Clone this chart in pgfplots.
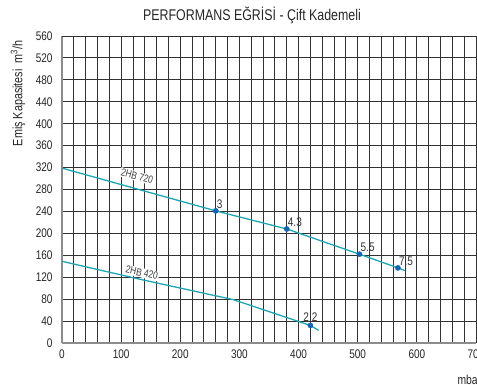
\documentclass[border=0pt]{standalone}
\usepackage{pgfplots}
\pgfplotsset{compat=1.18}
\usepackage{fontspec}
\setmainfont[FakeStretch=0.8]{Liberation Sans}
\definecolor{curve}{RGB}{30,165,180}
\definecolor{dot}{RGB}{20,100,180}
\definecolor{gridc}{RGB}{50,50,50}
\begin{document}
\begin{tikzpicture}
\begin{axis}[
  at={(0,0)}, anchor=south west,
  scale only axis, width=414pt, height=307pt,
  xmin=0, xmax=700, ymin=0, ymax=560,
  xtick={0,100,...,700}, ytick={0,40,...,560},
  minor x tick num=4,
  xmajorgrids, xminorgrids, ymajorgrids,
  major grid style={gridc, line width=0.9pt},
  minor grid style={gridc, line width=0.9pt},
  major tick length=0pt, minor tick length=0pt,
  axis line style={black!45, line width=1.5pt},
  axis x line*=bottom, axis y line*=left,
  tick label style={font=\fontsize{12.5}{14}\selectfont, text=black!85},
  /pgf/number format/assume math mode=true,
  xticklabel style={yshift=-3pt},
  yticklabel style={xshift=-6pt},
  clip=false,
]
\draw[gridc, line width=0.9pt] (axis cs:0,560) -- (axis cs:700,560);
\addplot[curve, line width=1.3pt] coordinates {(0,319) (260,241) (380,208) (503,162) (568,137) (580,132)};
\addplot[curve, line width=1.3pt] coordinates {(0,149) (137,115) (290,79) (420,32) (434,23)};
\addplot[only marks, mark=*, mark size=2.6pt, color=dot,
  nodes near coords, point meta=explicit symbolic,
  every node near coord/.style={anchor=south west, font=\fontsize{12.5}{14}\selectfont, text=black!80, inner sep=1pt, xshift=0pt, yshift=1pt}]
  coordinates {(260,241)[3] (380,208)[4.3] (503,162)[5.5] (568,137)[7.5]};
\addplot[only marks, mark=*, mark size=2.6pt, color=dot,
  nodes near coords, point meta=explicit symbolic,
  every node near coord/.style={anchor=south, font=\fontsize{12.5}{14}\selectfont, text=black!80, inner sep=1pt, yshift=3pt}]
  coordinates {(420,32)[2.2]};
\node[fill=white, rotate=-15.5, inner sep=1pt, font=\fontsize{10.5}{12}\selectfont, text=black!75] at (axis cs:127,304) {2HB 720};
\node[fill=white, rotate=-13, inner sep=1pt, font=\fontsize{10.5}{12}\selectfont, text=black!75] at (axis cs:135,128) {2HB 420};
\node[font=\fontsize{15.5}{18}\selectfont, text=black!85] at ([xshift=-17pt, yshift=21pt]rel axis cs:0.5,1) {PERFORMANS EĞRİSİ - Çift Kademeli};
\node[rotate=90, anchor=east, font=\fontsize{13.5}{15}\selectfont, text=black!85] at ([xshift=-44pt, yshift=-1pt]rel axis cs:0,1) {Emiş Kapasitesi~~m\textsuperscript{3}/h};
\node[anchor=west, font=\fontsize{13}{15}\selectfont, text=black!85] at ([xshift=-22pt, yshift=-37pt]axis cs:700,0) {mbar};
\end{axis}
\pgfresetboundingbox
\path[use as bounding box] (-62pt,-42pt) rectangle (415pt,343pt);
\end{tikzpicture}
\end{document}
